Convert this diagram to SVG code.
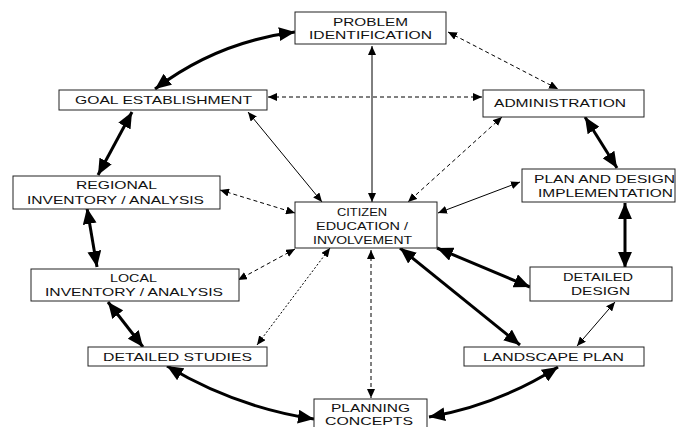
<svg xmlns="http://www.w3.org/2000/svg" width="680" height="427" viewBox="0 0 680 427">
<style>
.box rect{fill:#fff;stroke:#222;stroke-width:1}
.box text{font-family:"Liberation Sans",Arial,sans-serif;font-size:11.5px;fill:#111}
.thick{fill:none;stroke:#000;stroke-width:3;marker-start:url(#big);marker-end:url(#big)}
.thin{fill:none;stroke:#000;stroke-width:1;marker-start:url(#sm);marker-end:url(#sm)}
.dash{fill:none;stroke:#000;stroke-width:1;stroke-dasharray:4 3;marker-start:url(#sm);marker-end:url(#sm)}
.dot{fill:none;stroke:#000;stroke-width:1;stroke-dasharray:2 2;marker-start:url(#sm);marker-end:url(#sm)}
</style>
<defs>
<marker id="big" markerUnits="userSpaceOnUse" markerWidth="16" markerHeight="14" viewBox="0 0 15 13" refX="15" refY="6.5" orient="auto-start-reverse"><path d="M0,0 L15,6.5 L0,13 Z" fill="#000"/></marker>
<marker id="sm" markerUnits="userSpaceOnUse" markerWidth="9" markerHeight="8" viewBox="0 0 9 8" refX="9" refY="4" orient="auto-start-reverse"><path d="M0,0 L9,4 L0,8 Z" fill="#000"/></marker>
</defs>
<rect width="680" height="427" fill="#fff"/>
<g id="connectors">
<path class="thick" d="M155,89 Q217,42 295,32"/>
<path class="dash" d="M448,32 L558,89"/>
<path class="dash" d="M268,97 L482,97"/>
<path class="thin" d="M372,46 L372,202"/>
<path class="thin" d="M248,112 L322,202"/>
<path class="dash" d="M502,117 L408,202"/>
<path class="thick" d="M585,117 L617,168"/>
<path class="thin" d="M438,213 L520,182"/>
<path class="thick" d="M625,203 L625,268"/>
<path class="thick" d="M437,248 L530,287"/>
<path class="thick" d="M400,248 L520,345"/>
<path class="thin" d="M615,302 L577,346"/>
<path class="thick" d="M558,367 Q498,405 429,417"/>
<path class="dash" d="M371,250 L371,398"/>
<path class="thick" d="M167,366 Q235,407 314,419"/>
<path class="dot" d="M330,248 L257,345"/>
<path class="dash" d="M295,249 L238,280"/>
<path class="dash" d="M220,190 L295,213"/>
<path class="thick" d="M87,208 L97,267"/>
<path class="thick" d="M132,112 L98,175"/>
<path class="thick" d="M108,302 L143,347"/>
</g>
<g id="problem" class="box"><rect x="295" y="12" width="151" height="32"/><text x="333" y="26" textLength="75" lengthAdjust="spacingAndGlyphs">PROBLEM</text><text x="309" y="39" textLength="123" lengthAdjust="spacingAndGlyphs">IDENTIFICATION</text></g>
<g id="goal" class="box"><rect x="59" y="90" width="208" height="20"/><text x="75" y="104" textLength="177" lengthAdjust="spacingAndGlyphs">GOAL ESTABLISHMENT</text></g>
<g id="admin" class="box"><rect x="483" y="90" width="161" height="27"/><text x="494" y="107" textLength="132" lengthAdjust="spacingAndGlyphs">ADMINISTRATION</text></g>
<g id="regional" class="box"><rect x="13" y="176" width="207" height="33"/><text x="76" y="189" textLength="81" lengthAdjust="spacingAndGlyphs">REGIONAL</text><text x="27" y="204" textLength="177" lengthAdjust="spacingAndGlyphs">INVENTORY / ANALYSIS</text></g>
<g id="citizen" class="box"><rect x="295" y="202" width="142" height="46"/><text x="337" y="216" textLength="50" lengthAdjust="spacingAndGlyphs">CITIZEN</text><text x="316" y="230" textLength="92" lengthAdjust="spacingAndGlyphs">EDUCATION /</text><text x="313" y="244" textLength="99" lengthAdjust="spacingAndGlyphs">INVOLVEMENT</text></g>
<g id="plan" class="box"><rect x="522" y="169" width="153" height="33"/><text x="534" y="183" textLength="141" lengthAdjust="spacingAndGlyphs">PLAN AND DESIGN</text><text x="538" y="197" textLength="135" lengthAdjust="spacingAndGlyphs">IMPLEMENTATION</text></g>
<g id="detdesign" class="box"><rect x="530" y="267" width="142" height="34"/><text x="563" y="281" textLength="70" lengthAdjust="spacingAndGlyphs">DETAILED</text><text x="571" y="295" textLength="59" lengthAdjust="spacingAndGlyphs">DESIGN</text></g>
<g id="local" class="box"><rect x="31" y="269" width="208" height="32"/><text x="110" y="282" textLength="47" lengthAdjust="spacingAndGlyphs">LOCAL</text><text x="45" y="296" textLength="178" lengthAdjust="spacingAndGlyphs">INVENTORY / ANALYSIS</text></g>
<g id="studies" class="box"><rect x="88" y="347" width="179" height="19"/><text x="103" y="361" textLength="149" lengthAdjust="spacingAndGlyphs">DETAILED STUDIES</text></g>
<g id="landscape" class="box"><rect x="464" y="347" width="180" height="19"/><text x="483" y="361" textLength="141" lengthAdjust="spacingAndGlyphs">LANDSCAPE PLAN</text></g>
<g id="concepts" class="box"><rect x="314" y="399" width="113" height="40"/><text x="331" y="412" textLength="79" lengthAdjust="spacingAndGlyphs">PLANNING</text><text x="325" y="425" textLength="88" lengthAdjust="spacingAndGlyphs">CONCEPTS</text></g>
</svg>
